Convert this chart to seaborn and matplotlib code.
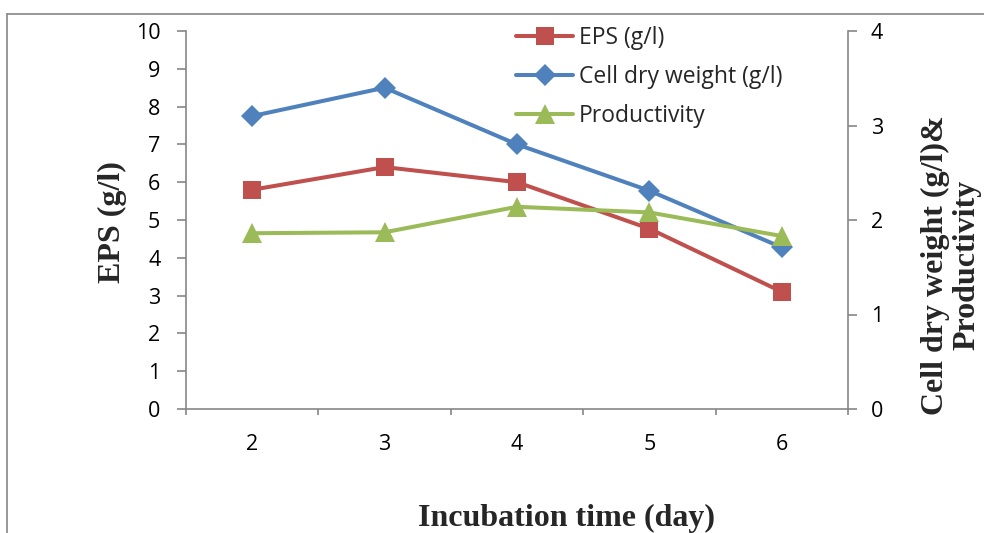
import matplotlib
matplotlib.use("Agg")
import matplotlib.pyplot as plt
import seaborn as sns
import pandas as pd
from matplotlib.lines import Line2D

days = [2, 3, 4, 5, 6]
eps = [5.8, 6.4, 6.0, 4.77, 3.1]
cell_dry_weight = [3.1, 3.4, 2.8, 2.31, 1.71]
productivity = [1.86, 1.87, 2.14, 2.08, 1.83]

labels = ["EPS (g/l)", "Cell dry weight (g/l)", "Productivity"]
red, blue, green = "#C0504D", "#4F81BD", "#9BBB59"
axis_gray = "#868686"

sns.set_theme(style="white")
plt.rcParams["font.family"] = ["Open Sans", "DejaVu Sans"]

W, H = 984, 533
fig = plt.figure(figsize=(W / 100, H / 100), dpi=100)
ax = fig.add_axes([186 / W, 1 - 409 / H, (848 - 186) / W, (409 - 31) / H])
ax2 = ax.twinx()

df = pd.DataFrame({"day": days, "eps": eps, "cdw": cell_dry_weight, "prod": productivity})

lw = 2.9
sns.lineplot(data=df, x="day", y="eps", ax=ax, color=red, marker="s", markersize=13,
             markeredgewidth=0, linewidth=lw, legend=False)
sns.lineplot(data=df, x="day", y="cdw", ax=ax2, color=blue, marker="D", markersize=11,
             markeredgewidth=0, linewidth=lw, legend=False)
sns.lineplot(data=df, x="day", y="prod", ax=ax2, color=green, marker="^", markersize=14,
             markeredgewidth=0, linewidth=lw, legend=False)

ax.set_xlim(1.5, 6.5)
ax.set_ylim(0, 10)
ax2.set_ylim(0, 4)
ax.set_yticks(range(0, 11))
ax2.set_yticks(range(0, 5))
ax.set_xticks(days)
ax.set_xticks([1.5, 2.5, 3.5, 4.5, 5.5, 6.5], minor=True)

for a in (ax, ax2):
    for s in a.spines.values():
        s.set_visible(False)
ax.spines["left"].set_visible(True)
ax.spines["bottom"].set_visible(True)
ax2.spines["right"].set_visible(True)
for s in (ax.spines["left"], ax.spines["bottom"], ax2.spines["right"]):
    s.set_color(axis_gray)
    s.set_linewidth(1.2)

fs = 15.5
ax.tick_params(axis="y", which="major", direction="out", length=6.5, width=1.2,
               color=axis_gray, labelsize=fs, pad=12, left=True, labelcolor="black")
ax.tick_params(axis="x", which="major", length=0, labelsize=fs, pad=18, labelcolor="black")
ax.tick_params(axis="x", which="minor", direction="out", length=4.5, width=1.2,
               color=axis_gray, bottom=True)
ax2.tick_params(axis="y", which="major", direction="out", length=6.5, width=1.2,
                color=axis_gray, labelsize=fs, pad=10, right=True, labelcolor="black")

serif = ["Liberation Serif", "DejaVu Serif"]
ax.set_xlabel("")
ax.set_ylabel("")
ax2.set_ylabel("")
fig.text(567 / W, 1 - 518 / H, "Incubation time (day)", ha="center", va="center",
         fontsize=23, fontweight="bold", family=serif)
fig.text(112 / W, 1 - 222 / H, "EPS (g/l)", ha="center", va="center", rotation=90,
         fontsize=23, fontweight="bold", family=serif)
fig.text(951 / W, 1 - 265 / H, "Cell dry weight (g/l)&\nProductivity", ha="center",
         va="center", rotation=90, fontsize=23, fontweight="bold", family=serif,
         linespacing=1.1, multialignment="center")

handles = [ax.lines[0], ax2.lines[0], ax2.lines[1]]
fig.legend(handles, labels, loc="upper left", bbox_to_anchor=(507 / W, 1 - 17 / H),
           frameon=False, fontsize=16.5, handlelength=2.5, handletextpad=0.25,
           labelspacing=0.65, borderaxespad=0)

fig.add_artist(Line2D([7 / W, 7 / W], [0, 1 - 14 / H], transform=fig.transFigure,
                      color=axis_gray, linewidth=1.2))
fig.add_artist(Line2D([7 / W, 1], [1 - 14 / H, 1 - 14 / H], transform=fig.transFigure,
                      color=axis_gray, linewidth=1.2))

fig.savefig("out.png", dpi=100)
